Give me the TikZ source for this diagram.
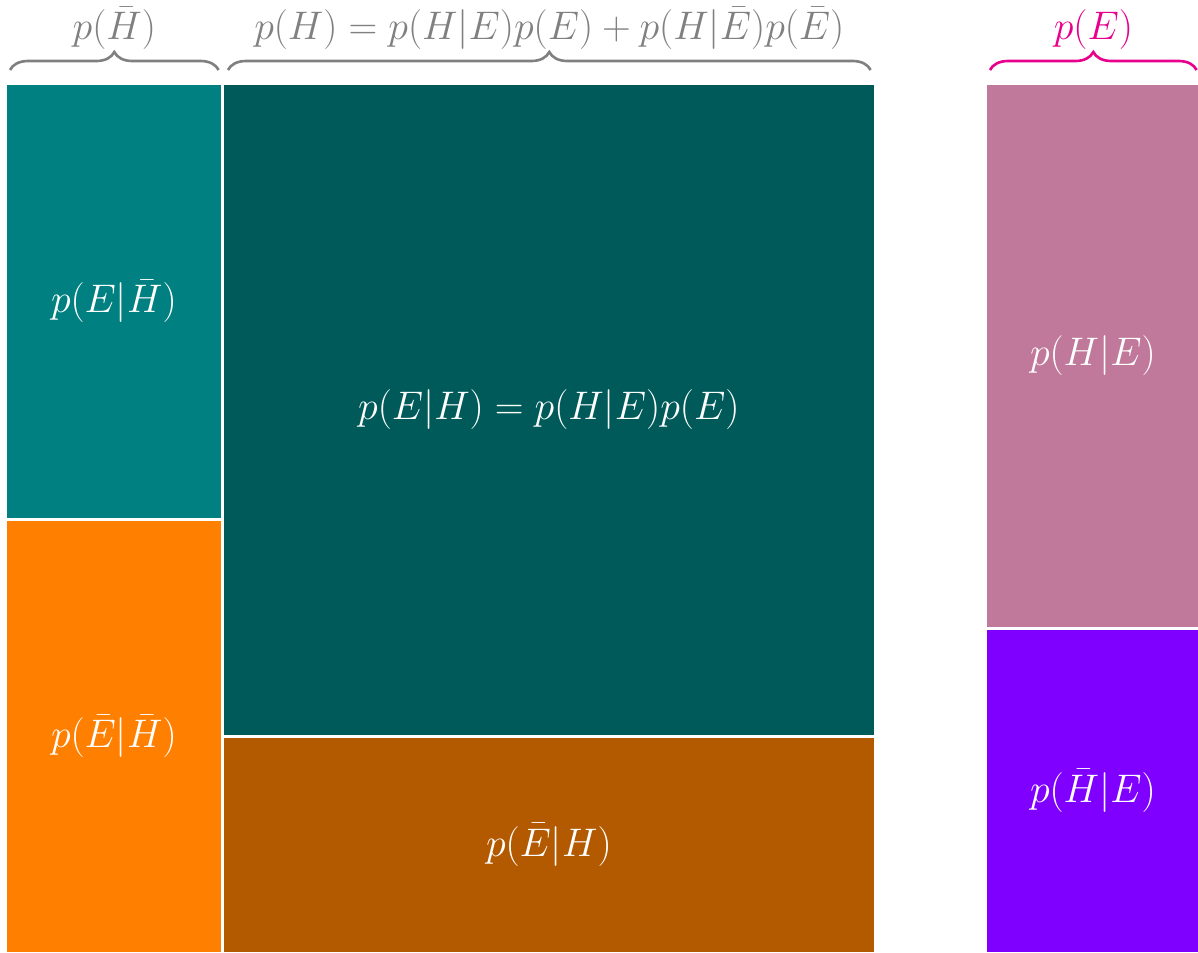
\RequirePackage{fix-cm}
\documentclass[tikz,border=0pt]{standalone}
\usepackage{amsmath,amssymb}
\usepackage{xcolor}
\usepackage{tikz}
\usetikzlibrary{decorations.pathreplacing,positioning,calc}
\definecolor{cellTeal}{RGB}{0,128,128}
\definecolor{cellDark}{RGB}{0,90,90}
\definecolor{cellOrange}{RGB}{255,128,0}
\definecolor{cellBrown}{RGB}{179,89,0}
\definecolor{cellMauve}{RGB}{192,121,154}
\definecolor{cellViolet}{RGB}{128,0,255}
\definecolor{braceMag}{RGB}{232,0,140}
\newcommand{\bH}{\bar{H}}
\newcommand{\bE}{\bar{E}}
\tikzset{
  Cell/.style={draw=white, line width=1.5pt, text=white, inner sep=0pt,
               font=\fontsize{22.7}{27}\selectfont, anchor=north west},
  Brc/.style={decorate, decoration={brace, amplitude=0.36cm}, line width=1.5pt},
  Blbl/.style={midway, above=0.38cm, inner sep=0pt, font=\fontsize{22.7}{27}\selectfont}
}
\begin{document}
\begin{tikzpicture}
  \useasboundingbox (0,0) rectangle (23.96,-19.04);

  \node[Cell, fill=cellTeal, minimum width=4.34cm, minimum height=8.72cm] (tl) at (0.08,-1.64) {$p(E|\bH)$};
  \node[Cell, fill=cellOrange, minimum width=4.34cm, minimum height=8.68cm] (bl) at (0.08,-10.36) {$p(\bE|\bH)$};
  \node[Cell, fill=cellDark, minimum width=13.06cm, minimum height=13.06cm] (tm) at (4.42,-1.64) {$p(E|H) = p(H|E)p(E)$};
  \node[Cell, fill=cellBrown, minimum width=13.06cm, minimum height=4.34cm] (bm) at (4.42,-14.70) {$p(\bE|H)$};
  \node[Cell, fill=cellMauve, minimum width=4.30cm, minimum height=10.9cm] (rt) at (19.68,-1.64) {$p(H|E)$};
  \node[Cell, fill=cellViolet, minimum width=4.30cm, minimum height=6.5cm] (rb) at (19.68,-12.54) {$p(\bH|E)$};

  % braces over the columns
  \draw[Brc, gray] ([xshift=0.12cm,yshift=0.24cm]tl.north west) -- ([xshift=-0.1cm,yshift=0.24cm]tl.north east)
    node[Blbl, text=gray] (lblL) {$p(\bH)$};
  \draw[Brc, gray] ([xshift=0.14cm,yshift=0.24cm]tm.north west) -- ([xshift=-0.12cm,yshift=0.24cm]tm.north east)
    node[Blbl, text=gray] (lblM) {$p(H) = p(H|E)p(E) + p(H|\bE)p(\bE)$};
  \draw[Brc, braceMag] ([xshift=0.12cm,yshift=0.24cm]rt.north west) -- ([xshift=-0.1cm,yshift=0.24cm]rt.north east)
    node[Blbl, text=braceMag] (lblR) {$p(E)$};
\end{tikzpicture}
\end{document}
